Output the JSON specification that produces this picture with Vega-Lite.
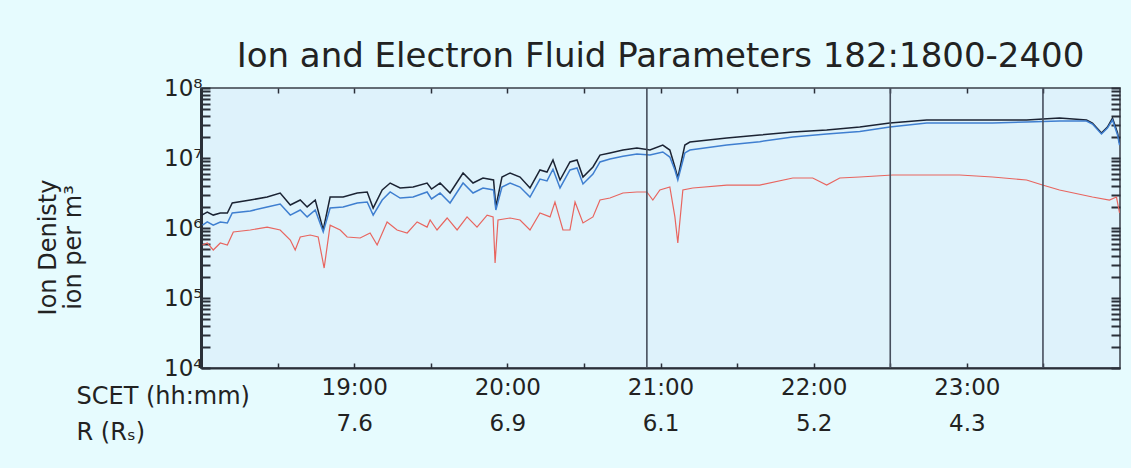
{
  "$schema": "https://vega.github.io/schema/vega-lite/v6.json",
  "autosize": {"type": "none"},
  "padding": {"left": 201, "top": 88, "right": 11, "bottom": 100},
  "width": 919,
  "height": 280,
  "background": "#e6fbfe",
  "title": {
    "text": "Ion and Electron Fluid Parameters 182:1800-2400",
    "font": "DejaVu Sans",
    "fontSize": 34,
    "fontWeight": "normal",
    "color": "#222222",
    "anchor": "middle",
    "baseline": "alphabetic",
    "offset": -24
  },
  "config": {
    "view": {"fill": "#def2fb", "stroke": "#3a3f48", "strokeWidth": 1.5},
    "axis": {"labelFont": "DejaVu Sans", "titleFont": "DejaVu Sans", "labelColor": "#222222", "titleColor": "#222222", "titleFontWeight": "normal", "grid": false, "tickColor": "#2a2f38", "domainColor": "#2a2f38"}
  },
  "datasets": {
    "dens": [
      {"t": 18.005, "s": "total", "n": 1.53e6}, {"t": 18.041, "s": "total", "n": 1.69e6}, {"t": 18.080, "s": "total", "n": 1.53e6}, {"t": 18.126, "s": "total", "n": 1.64e6}, {"t": 18.172, "s": "total", "n": 1.64e6}, {"t": 18.204, "s": "total", "n": 2.28e6}, {"t": 18.322, "s": "total", "n": 2.51e6}, {"t": 18.432, "s": "total", "n": 2.77e6}, {"t": 18.517, "s": "total", "n": 3.16e6}, {"t": 18.583, "s": "total", "n": 2.13e6}, {"t": 18.648, "s": "total", "n": 2.51e6}, {"t": 18.693, "s": "total", "n": 2.0e6}, {"t": 18.746, "s": "total", "n": 2.51e6}, {"t": 18.798, "s": "total", "n": 9.4e5}, {"t": 18.843, "s": "total", "n": 2.77e6}, {"t": 18.928, "s": "total", "n": 2.77e6}, {"t": 19.020, "s": "total", "n": 3.16e6}, {"t": 19.085, "s": "total", "n": 3.27e6}, {"t": 19.124, "s": "total", "n": 1.93e6}, {"t": 19.183, "s": "total", "n": 3.49e6}, {"t": 19.235, "s": "total", "n": 4.39e6}, {"t": 19.300, "s": "total", "n": 3.73e6}, {"t": 19.385, "s": "total", "n": 3.85e6}, {"t": 19.476, "s": "total", "n": 4.39e6}, {"t": 19.505, "s": "total", "n": 3.6e6}, {"t": 19.561, "s": "total", "n": 4.39e6}, {"t": 19.626, "s": "total", "n": 3.16e6}, {"t": 19.711, "s": "total", "n": 6.11e6}, {"t": 19.776, "s": "total", "n": 4.39e6}, {"t": 19.841, "s": "total", "n": 5.18e6}, {"t": 19.910, "s": "total", "n": 4.85e6}, {"t": 19.925, "s": "total", "n": 2.0e6}, {"t": 19.965, "s": "total", "n": 5.35e6}, {"t": 20.018, "s": "total", "n": 6.11e6}, {"t": 20.083, "s": "total", "n": 5.35e6}, {"t": 20.148, "s": "total", "n": 3.73e6}, {"t": 20.213, "s": "total", "n": 6.74e6}, {"t": 20.259, "s": "total", "n": 6.31e6}, {"t": 20.298, "s": "total", "n": 9.37e6}, {"t": 20.344, "s": "total", "n": 4.85e6}, {"t": 20.409, "s": "total", "n": 8.77e6}, {"t": 20.455, "s": "total", "n": 9.37e6}, {"t": 20.494, "s": "total", "n": 5.35e6}, {"t": 20.559, "s": "total", "n": 7.44e6}, {"t": 20.605, "s": "total", "n": 1.10e7}, {"t": 20.670, "s": "total", "n": 1.18e7}, {"t": 20.755, "s": "total", "n": 1.30e7}, {"t": 20.846, "s": "total", "n": 1.39e7}, {"t": 20.931, "s": "total", "n": 1.30e7}, {"t": 21.015, "s": "total", "n": 1.53e7}, {"t": 21.061, "s": "total", "n": 1.30e7}, {"t": 21.094, "s": "total", "n": 7.44e6}, {"t": 21.113, "s": "total", "n": 5.18e6}, {"t": 21.159, "s": "total", "n": 1.53e7}, {"t": 21.192, "s": "total", "n": 1.69e7}, {"t": 21.433, "s": "total", "n": 1.93e7}, {"t": 21.648, "s": "total", "n": 2.13e7}, {"t": 21.864, "s": "total", "n": 2.35e7}, {"t": 22.085, "s": "total", "n": 2.51e7}, {"t": 22.301, "s": "total", "n": 2.77e7}, {"t": 22.497, "s": "total", "n": 3.16e7}, {"t": 22.738, "s": "total", "n": 3.49e7}, {"t": 22.953, "s": "total", "n": 3.49e7}, {"t": 23.168, "s": "total", "n": 3.49e7}, {"t": 23.390, "s": "total", "n": 3.49e7}, {"t": 23.605, "s": "total", "n": 3.72e7}, {"t": 23.781, "s": "total", "n": 3.49e7}, {"t": 23.820, "s": "total", "n": 3.16e7}, {"t": 23.879, "s": "total", "n": 2.28e7}, {"t": 23.918, "s": "total", "n": 2.77e7}, {"t": 23.951, "s": "total", "n": 3.72e7}, {"t": 23.984, "s": "total", "n": 2.28e7}, {"t": 23.997, "s": "total", "n": 1.64e7},

      {"t": 18.010, "s": "electron", "n": 1.10e6}, {"t": 18.041, "s": "electron", "n": 1.22e6}, {"t": 18.080, "s": "electron", "n": 1.10e6}, {"t": 18.126, "s": "electron", "n": 1.22e6}, {"t": 18.172, "s": "electron", "n": 1.18e6}, {"t": 18.204, "s": "electron", "n": 1.64e6}, {"t": 18.322, "s": "electron", "n": 1.75e6}, {"t": 18.432, "s": "electron", "n": 2.0e6}, {"t": 18.517, "s": "electron", "n": 2.2e6}, {"t": 18.583, "s": "electron", "n": 1.53e6}, {"t": 18.648, "s": "electron", "n": 1.81e6}, {"t": 18.693, "s": "electron", "n": 1.44e6}, {"t": 18.746, "s": "electron", "n": 1.81e6}, {"t": 18.798, "s": "electron", "n": 8.8e5}, {"t": 18.843, "s": "electron", "n": 1.93e6}, {"t": 18.928, "s": "electron", "n": 2.0e6}, {"t": 19.020, "s": "electron", "n": 2.28e6}, {"t": 19.085, "s": "electron", "n": 2.35e6}, {"t": 19.124, "s": "electron", "n": 1.53e6}, {"t": 19.183, "s": "electron", "n": 2.51e6}, {"t": 19.235, "s": "electron", "n": 3.27e6}, {"t": 19.300, "s": "electron", "n": 2.68e6}, {"t": 19.385, "s": "electron", "n": 2.77e6}, {"t": 19.476, "s": "electron", "n": 3.27e6}, {"t": 19.505, "s": "electron", "n": 2.6e6}, {"t": 19.561, "s": "electron", "n": 3.16e6}, {"t": 19.626, "s": "electron", "n": 2.28e6}, {"t": 19.711, "s": "electron", "n": 4.39e6}, {"t": 19.776, "s": "electron", "n": 3.16e6}, {"t": 19.841, "s": "electron", "n": 3.73e6}, {"t": 19.910, "s": "electron", "n": 3.49e6}, {"t": 19.925, "s": "electron", "n": 1.81e6}, {"t": 19.965, "s": "electron", "n": 3.85e6}, {"t": 20.018, "s": "electron", "n": 4.39e6}, {"t": 20.083, "s": "electron", "n": 3.85e6}, {"t": 20.148, "s": "electron", "n": 2.77e6}, {"t": 20.213, "s": "electron", "n": 5.0e6}, {"t": 20.259, "s": "electron", "n": 4.7e6}, {"t": 20.298, "s": "electron", "n": 6.9e6}, {"t": 20.344, "s": "electron", "n": 3.73e6}, {"t": 20.409, "s": "electron", "n": 6.74e6}, {"t": 20.455, "s": "electron", "n": 7.2e6}, {"t": 20.494, "s": "electron", "n": 4.25e6}, {"t": 20.559, "s": "electron", "n": 5.9e6}, {"t": 20.605, "s": "electron", "n": 8.77e6}, {"t": 20.670, "s": "electron", "n": 9.7e6}, {"t": 20.755, "s": "electron", "n": 1.06e7}, {"t": 20.846, "s": "electron", "n": 1.14e7}, {"t": 20.931, "s": "electron", "n": 1.10e7}, {"t": 21.015, "s": "electron", "n": 1.22e7}, {"t": 21.061, "s": "electron", "n": 1.03e7}, {"t": 21.094, "s": "electron", "n": 6.74e6}, {"t": 21.113, "s": "electron", "n": 4.85e6}, {"t": 21.159, "s": "electron", "n": 1.18e7}, {"t": 21.192, "s": "electron", "n": 1.30e7}, {"t": 21.433, "s": "electron", "n": 1.53e7}, {"t": 21.648, "s": "electron", "n": 1.71e7}, {"t": 21.864, "s": "electron", "n": 2.0e7}, {"t": 22.085, "s": "electron", "n": 2.2e7}, {"t": 22.301, "s": "electron", "n": 2.4e7}, {"t": 22.497, "s": "electron", "n": 2.77e7}, {"t": 22.738, "s": "electron", "n": 3.16e7}, {"t": 22.953, "s": "electron", "n": 3.16e7}, {"t": 23.168, "s": "electron", "n": 3.16e7}, {"t": 23.390, "s": "electron", "n": 3.27e7}, {"t": 23.605, "s": "electron", "n": 3.38e7}, {"t": 23.781, "s": "electron", "n": 3.38e7}, {"t": 23.820, "s": "electron", "n": 3.05e7}, {"t": 23.879, "s": "electron", "n": 2.2e7}, {"t": 23.918, "s": "electron", "n": 2.68e7}, {"t": 23.951, "s": "electron", "n": 3.49e7}, {"t": 23.984, "s": "electron", "n": 2.13e7}, {"t": 23.997, "s": "electron", "n": 1.53e7},

      {"t": 18.010, "s": "light", "n": 5.72e5}, {"t": 18.041, "s": "light", "n": 6.11e5}, {"t": 18.080, "s": "light", "n": 4.85e5}, {"t": 18.126, "s": "light", "n": 6.11e5}, {"t": 18.172, "s": "light", "n": 5.72e5}, {"t": 18.211, "s": "light", "n": 8.77e5}, {"t": 18.322, "s": "light", "n": 9.37e5}, {"t": 18.432, "s": "light", "n": 1.03e6}, {"t": 18.517, "s": "light", "n": 9.37e5}, {"t": 18.583, "s": "light", "n": 6.74e5}, {"t": 18.615, "s": "light", "n": 4.85e5}, {"t": 18.648, "s": "light", "n": 7.44e5}, {"t": 18.713, "s": "light", "n": 7.94e5}, {"t": 18.765, "s": "light", "n": 7.44e5}, {"t": 18.804, "s": "light", "n": 2.68e5}, {"t": 18.843, "s": "light", "n": 1.10e6}, {"t": 18.909, "s": "light", "n": 9.37e5}, {"t": 18.954, "s": "light", "n": 7.44e5}, {"t": 19.039, "s": "light", "n": 7.20e5}, {"t": 19.104, "s": "light", "n": 8.48e5}, {"t": 19.150, "s": "light", "n": 5.72e5}, {"t": 19.215, "s": "light", "n": 1.22e6}, {"t": 19.280, "s": "light", "n": 9.37e5}, {"t": 19.346, "s": "light", "n": 8.48e5}, {"t": 19.411, "s": "light", "n": 1.22e6}, {"t": 19.476, "s": "light", "n": 1.03e6}, {"t": 19.496, "s": "light", "n": 1.30e6}, {"t": 19.541, "s": "light", "n": 9.37e5}, {"t": 19.607, "s": "light", "n": 1.39e6}, {"t": 19.672, "s": "light", "n": 9.37e5}, {"t": 19.737, "s": "light", "n": 1.44e6}, {"t": 19.802, "s": "light", "n": 1.03e6}, {"t": 19.868, "s": "light", "n": 1.53e6}, {"t": 19.907, "s": "light", "n": 1.44e6}, {"t": 19.920, "s": "light", "n": 3.16e5}, {"t": 19.939, "s": "light", "n": 1.30e6}, {"t": 20.018, "s": "light", "n": 1.39e6}, {"t": 20.083, "s": "light", "n": 1.30e6}, {"t": 20.148, "s": "light", "n": 9.37e5}, {"t": 20.213, "s": "light", "n": 1.64e6}, {"t": 20.279, "s": "light", "n": 1.44e6}, {"t": 20.311, "s": "light", "n": 2.35e6}, {"t": 20.363, "s": "light", "n": 9.37e5}, {"t": 20.409, "s": "light", "n": 9.37e5}, {"t": 20.442, "s": "light", "n": 2.35e6}, {"t": 20.494, "s": "light", "n": 1.18e6}, {"t": 20.559, "s": "light", "n": 1.44e6}, {"t": 20.605, "s": "light", "n": 2.51e6}, {"t": 20.670, "s": "light", "n": 2.68e6}, {"t": 20.755, "s": "light", "n": 3.16e6}, {"t": 20.846, "s": "light", "n": 3.27e6}, {"t": 20.911, "s": "light", "n": 3.27e6}, {"t": 20.950, "s": "light", "n": 2.51e6}, {"t": 20.996, "s": "light", "n": 3.49e6}, {"t": 21.061, "s": "light", "n": 3.85e6}, {"t": 21.094, "s": "light", "n": 1.44e6}, {"t": 21.113, "s": "light", "n": 6.11e5}, {"t": 21.146, "s": "light", "n": 3.49e6}, {"t": 21.211, "s": "light", "n": 3.73e6}, {"t": 21.433, "s": "light", "n": 4.11e6}, {"t": 21.648, "s": "light", "n": 4.11e6}, {"t": 21.864, "s": "light", "n": 5.18e6}, {"t": 21.994, "s": "light", "n": 5.18e6}, {"t": 22.085, "s": "light", "n": 4.11e6}, {"t": 22.170, "s": "light", "n": 5.18e6}, {"t": 22.301, "s": "light", "n": 5.35e6}, {"t": 22.516, "s": "light", "n": 5.72e6}, {"t": 22.738, "s": "light", "n": 5.72e6}, {"t": 22.953, "s": "light", "n": 5.72e6}, {"t": 23.168, "s": "light", "n": 5.35e6}, {"t": 23.390, "s": "light", "n": 4.85e6}, {"t": 23.494, "s": "light", "n": 4.11e6}, {"t": 23.605, "s": "light", "n": 3.49e6}, {"t": 23.820, "s": "light", "n": 2.77e6}, {"t": 23.931, "s": "light", "n": 2.51e6}, {"t": 23.977, "s": "light", "n": 2.77e6}, {"t": 23.997, "s": "light", "n": 1.64e6}
    ],
    "vlines": [{"t": 20.911}, {"t": 22.5}, {"t": 23.497}]
  },
  "layer": [
    {
      "data": {"name": "dens"},
      "transform": [{"filter": "datum.s !== 'light'"}],
      "mark": {"type": "line", "strokeWidth": 1.5, "clip": true},
      "encoding": {
        "x": {"field": "t", "type": "quantitative", "scale": {"domain": [18, 24], "nice": false, "zero": false},
          "axis": {"orient": "bottom", "values": [18.5, 19, 19.5, 20, 20.5, 21, 21.5, 22, 22.5, 23, 23.5],
            "labelExpr": "datum.value % 1 === 0 ? [datum.value + ':00', ['', '7.6', '6.9', '6.1', '5.2', '4.3'][datum.value - 18]] : ''",
            "labelFontSize": 23, "labelLineHeight": 36, "labelBaseline": "top", "labelPadding": 13,
            "tickSize": -5, "tickWidth": 1.5, "domainWidth": 2,
            "title": ["SCET (hh:mm)", "R (Rₛ)"], "titleFontSize": 24, "titleLineHeight": 36,
            "titleAlign": "left", "titleAngle": 0, "titleBaseline": "alphabetic", "titleX": -125, "titleY": 35}},
        "y": {"field": "n", "type": "quantitative", "scale": {"type": "log", "domain": [10000, 100000000], "nice": false},
          "axis": {"orient": "left",
            "values": [10000, 20000, 30000, 40000, 50000, 60000, 70000, 80000, 90000, 100000, 200000, 300000, 400000, 500000, 600000, 700000, 800000, 900000, 1000000, 2000000, 3000000, 4000000, 5000000, 6000000, 7000000, 8000000, 9000000, 10000000, 20000000, 30000000, 40000000, 50000000, 60000000, 70000000, 80000000, 90000000, 100000000],
            "labelExpr": "abs(log(datum.value)/LN10 - round(log(datum.value)/LN10)) < 0.000001 ? '10' + ['⁴','⁵','⁶','⁷','⁸'][round(log(datum.value)/LN10) - 4] : ''",
            "labelFontSize": 23, "labelPadding": 8, "labelBaseline": "middle",
            "tickSize": -9, "tickWidth": 2, "domainWidth": 3,
            "title": ["Ion Denisty", "ion per m³"], "titleFontSize": 24, "titleLineHeight": 25,
            "titleAngle": -90, "titleAlign": "center", "titleBaseline": "alphabetic", "titleX": -146, "titleY": 159}},
        "color": {"field": "s", "type": "nominal", "scale": {"domain": ["total", "electron"], "range": ["#1b2333", "#3f7fd0"]}, "legend": null}
      }
    },
    {
      "data": {"name": "dens"},
      "transform": [{"filter": "datum.s === 'light'"}],
      "mark": {"type": "line", "strokeWidth": 1.2, "color": "#e8655f", "clip": true},
      "encoding": {
        "x": {"field": "t", "type": "quantitative", "scale": {"domain": [18, 24], "nice": false, "zero": false},
          "axis": {"orient": "top", "values": [18.5, 19, 19.5, 20, 20.5, 21, 21.5, 22, 22.5, 23, 23.5], "labels": false, "domain": false, "tickSize": -5, "tickWidth": 1.5, "title": null}},
        "y": {"field": "n", "type": "quantitative", "scale": {"type": "log", "domain": [10000, 100000000], "nice": false},
          "axis": {"orient": "right",
            "values": [10000, 20000, 30000, 40000, 50000, 60000, 70000, 80000, 90000, 100000, 200000, 300000, 400000, 500000, 600000, 700000, 800000, 900000, 1000000, 2000000, 3000000, 4000000, 5000000, 6000000, 7000000, 8000000, 9000000, 10000000, 20000000, 30000000, 40000000, 50000000, 60000000, 70000000, 80000000, 90000000, 100000000],
            "labels": false, "domain": false, "tickSize": -9, "tickWidth": 2, "title": null}}
      }
    },
    {
      "data": {"name": "vlines"},
      "mark": {"type": "rule", "color": "#464e5c", "strokeWidth": 1.6},
      "encoding": {
        "x": {"field": "t", "type": "quantitative", "scale": {"domain": [18, 24], "nice": false, "zero": false}, "axis": null}
      }
    }
  ],
  "resolve": {"scale": {"x": "independent", "y": "independent"}}
}
